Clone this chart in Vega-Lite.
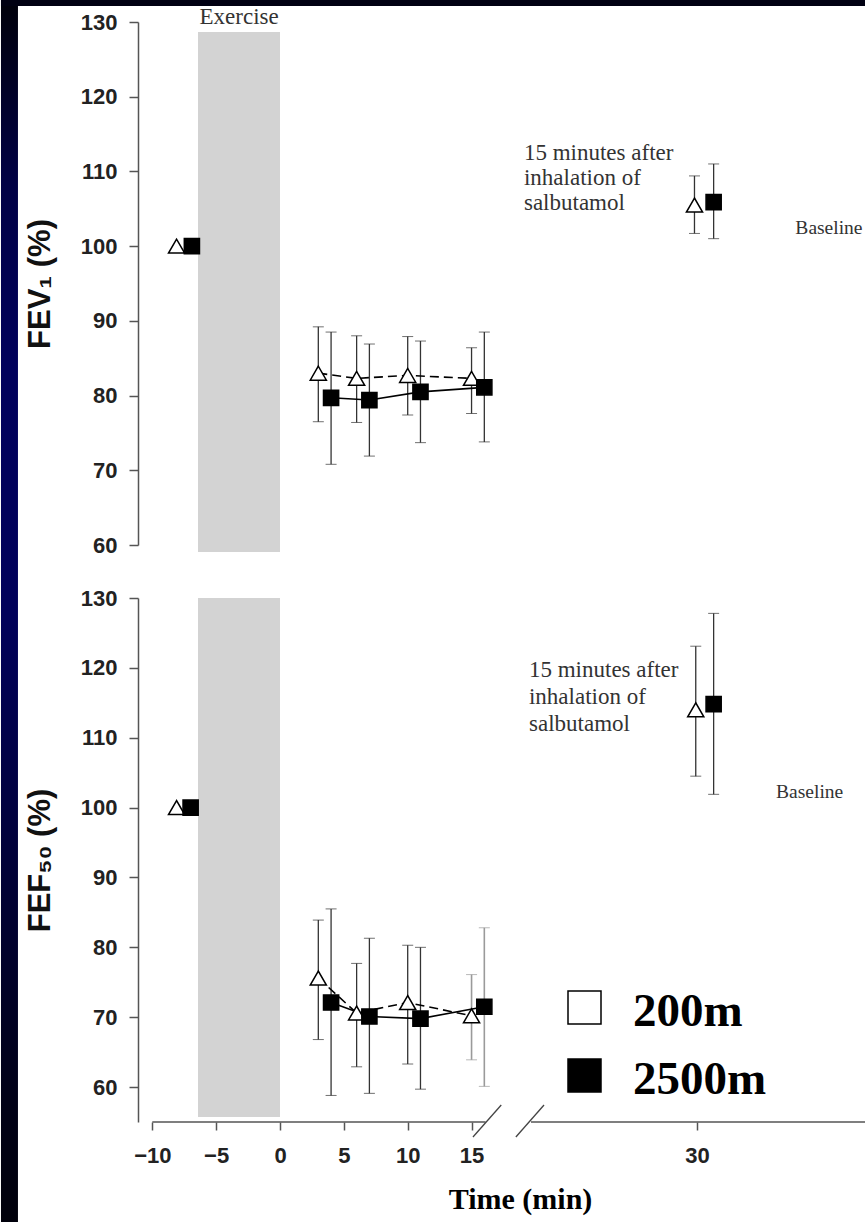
{
  "$schema": "https://vega.github.io/schema/vega-lite/v6.json",
  "background": "white",
  "padding": 0,
  "autosize": {"type": "pad"},
  "bounds": "flush",
  "spacing": 53,
  "config": {
    "view": {"stroke": null},
    "axis": {"grid": false, "labelFont": "Liberation Sans", "labelFontWeight": "bold", "labelColor": "#222", "titleFont": "Liberation Sans", "titleFontWeight": "bold", "titleColor": "#111", "domainColor": "#555", "tickColor": "#555", "domainWidth": 1.5, "tickWidth": 1.5}
  },
  "datasets": {
    "fev1": [
      {"t": -8.1, "v": 100, "lo": null, "hi": null, "alt": "200m"},
      {"t": 3, "v": 83.0, "lo": 76.5, "hi": 89.2, "alt": "200m"},
      {"t": 6, "v": 82.3, "lo": 76.4, "hi": 88.0, "alt": "200m"},
      {"t": 10, "v": 82.7, "lo": 77.4, "hi": 87.9, "alt": "200m"},
      {"t": 15, "v": 82.3, "lo": 77.6, "hi": 86.4, "alt": "200m"},
      {"t": 29.8, "v": 105.5, "lo": 101.7, "hi": 109.4, "alt": "200m"},
      {"t": -6.9, "v": 100, "lo": null, "hi": null, "alt": "2500m"},
      {"t": 4, "v": 79.7, "lo": 70.8, "hi": 88.5, "alt": "2500m"},
      {"t": 7, "v": 79.4, "lo": 71.9, "hi": 86.9, "alt": "2500m"},
      {"t": 11, "v": 80.5, "lo": 73.7, "hi": 87.3, "alt": "2500m"},
      {"t": 16, "v": 81.1, "lo": 73.8, "hi": 88.5, "alt": "2500m"},
      {"t": 31.3, "v": 105.9, "lo": 101.0, "hi": 111.0, "alt": "2500m"}
    ],
    "fef50": [
      {"t": -8.1, "v": 100, "lo": null, "hi": null, "alt": "200m"},
      {"t": 3, "v": 75.6, "lo": 66.8, "hi": 83.9, "alt": "200m"},
      {"t": 6, "v": 70.6, "lo": 62.9, "hi": 77.7, "alt": "200m"},
      {"t": 10, "v": 72.1, "lo": 63.3, "hi": 80.3, "alt": "200m"},
      {"t": 15, "v": 70.2, "lo": 63.9, "hi": 76.1, "alt": "200m"},
      {"t": 29.9, "v": 114.0, "lo": 104.5, "hi": 123.1, "alt": "200m"},
      {"t": -7.0, "v": 100, "lo": null, "hi": null, "alt": "2500m"},
      {"t": 4, "v": 72.1, "lo": 58.8, "hi": 85.5, "alt": "2500m"},
      {"t": 7, "v": 70.1, "lo": 59.1, "hi": 81.3, "alt": "2500m"},
      {"t": 11, "v": 69.8, "lo": 59.7, "hi": 80.0, "alt": "2500m"},
      {"t": 16, "v": 71.5, "lo": 60.1, "hi": 82.8, "alt": "2500m"},
      {"t": 31.3, "v": 114.8, "lo": 101.9, "hi": 127.8, "alt": "2500m"}
    ]
  },
  "resolve": {
    "scale": {"fill": "independent"},
    "legend": {"fill": "independent"}
  },
  "vconcat": [
    {
      "width": 728,
      "height": 523,
      "encoding": {
        "x": {"type": "quantitative", "scale": {"domain": [-11.12, 16.1, 17.0, 43.23], "range": [0, 347.6, 393, 728], "nice": false, "zero": false}, "axis": null},
        "y": {"type": "quantitative", "title": "FEV₁ (%)", "scale": {"domain": [60, 130], "nice": false, "zero": false}, "axis": {"values": [60, 70, 80, 90, 100, 110, 120, 130], "titleFontSize": 31, "titlePadding": 24, "labelFontSize": 22, "tickSize": 9, "labelPadding": 12}}
      },
      "layer": [
        {
          "data": {"values": [{"x": -21.85, "x2": -20.52, "y": 132.94, "y2": -32}]},
          "mark": {"type": "rect", "color": {"gradient": "linear", "x1": 0, "y1": 0, "x2": 0, "y2": 1, "stops": [{"offset": 0, "color": "#00000a"}, {"offset": 0.15, "color": "#000045"}, {"offset": 0.3, "color": "#00005c"}, {"offset": 0.5, "color": "#00005a"}, {"offset": 0.7, "color": "#000038"}, {"offset": 0.9, "color": "#000016"}, {"offset": 1, "color": "#00000a"}]}},
          "encoding": {"x": {"field": "x"}, "x2": {"field": "x2"}, "y": {"field": "y"}, "y2": {"field": "y2"}}
        },
        {
          "data": {"values": [{"x": -21.85, "x2": 43.23, "y": 132.94, "y2": 132.14}]},
          "mark": {"type": "rect", "color": "#000012"},
          "encoding": {"x": {"field": "x"}, "x2": {"field": "x2"}, "y": {"field": "y"}, "y2": {"field": "y2"}}
        },
        {
          "data": {"values": [{"x": -6.42, "x2": 0, "y": 128.66, "y2": 59.06}]},
          "mark": {"type": "rect", "color": "#d3d3d3"},
          "encoding": {"x": {"field": "x"}, "x2": {"field": "x2"}, "y": {"field": "y"}, "y2": {"field": "y2"}}
        },
        {
          "data": {"values": [{"label": "Exercise", "x": -3.2, "y": 130.7}]},
          "mark": {"type": "text", "font": "Liberation Serif", "fontSize": 23, "color": "#333", "align": "center", "baseline": "middle"},
          "encoding": {"x": {"field": "x"}, "y": {"field": "y"}, "text": {"field": "label"}}
        },
        {
          "mark": {"type": "rule", "color": "#555", "strokeDash": [2, 3], "strokeWidth": 1.3},
          "encoding": {"y": {"datum": 100}}
        },
        {
          "data": {"values": [{"label": "Baseline", "x": 37.7, "y": 102.43}]},
          "mark": {"type": "text", "font": "Liberation Serif", "fontSize": 19.5, "color": "#333", "align": "left", "baseline": "middle"},
          "encoding": {"x": {"field": "x"}, "y": {"field": "y"}, "text": {"field": "label"}}
        },
        {
          "data": {"values": [{"label": ["15 minutes after", "inhalation of", "salbutamol"], "x": 16.86, "y": 112.47}]},
          "mark": {"type": "text", "font": "Liberation Serif", "fontSize": 23, "color": "#333", "align": "left", "baseline": "middle", "lineHeight": 25},
          "encoding": {"x": {"field": "x"}, "y": {"field": "y"}, "text": {"field": "label"}}
        },
        {
          "data": {"name": "fev1"},
          "transform": [{"filter": "datum.lo != null"}],
          "mark": {"type": "errorbar", "ticks": {"size": 11, "color": "#333", "strokeWidth": 1.3}, "rule": {"color": "#333", "strokeWidth": 1.3}},
          "encoding": {"x": {"field": "t"}, "y": {"field": "lo"}, "y2": {"field": "hi"}}
        },
        {
          "data": {"name": "fev1"},
          "transform": [{"filter": "datum.alt == '200m' && datum.t > 2 && datum.t < 17"}],
          "mark": {"type": "line", "color": "black", "strokeWidth": 1.6, "strokeDash": [9, 5]},
          "encoding": {"x": {"field": "t"}, "y": {"field": "v"}}
        },
        {
          "data": {"name": "fev1"},
          "transform": [{"filter": "datum.alt == '2500m' && datum.t > 2 && datum.t < 17"}],
          "mark": {"type": "line", "color": "black", "strokeWidth": 1.6},
          "encoding": {"x": {"field": "t"}, "y": {"field": "v"}}
        },
        {
          "data": {"name": "fev1"},
          "transform": [{"filter": "datum.alt == '200m'"}],
          "mark": {"type": "point", "shape": "triangle-up", "filled": true, "opacity": 1, "stroke": "black", "strokeWidth": 1.5, "size": 260},
          "encoding": {"x": {"field": "t"}, "y": {"field": "v"}, "fill": {"field": "alt", "type": "nominal", "scale": {"domain": ["200m", "2500m"], "range": ["white", "black"]}, "legend": null}}
        },
        {
          "data": {"name": "fev1"},
          "transform": [{"filter": "datum.alt == '2500m'"}],
          "mark": {"type": "point", "shape": "square", "filled": true, "opacity": 1, "stroke": "black", "strokeWidth": 1.5, "size": 230},
          "encoding": {"x": {"field": "t"}, "y": {"field": "v"}, "fill": {"field": "alt", "type": "nominal", "scale": {"domain": ["200m", "2500m"], "range": ["white", "black"]}, "legend": null}}
        }
      ]
    },
    {
      "width": 728,
      "height": 524,
      "encoding": {
        "x": {"type": "quantitative", "title": "Time (min)", "scale": {"domain": [-11.12, 16.1, 17.0, 43.23], "range": [0, 347.6, 393, 728], "nice": false, "zero": false}, "axis": {"values": [-10, -5, 0, 5, 10, 15, 30], "domain": false, "labelFlush": false, "labelFontSize": 22, "tickSize": 8, "labelPadding": 15, "titleFont": "Liberation Serif", "titleFontSize": 30, "titleColor": "black", "titlePadding": 18, "titleX": 382}},
        "y": {"type": "quantitative", "title": "FEF₅₀ (%)", "scale": {"domain": [55, 130], "nice": false, "zero": false}, "axis": {"values": [60, 70, 80, 90, 100, 110, 120, 130], "titleFontSize": 31, "titlePadding": 24, "labelFontSize": 22, "tickSize": 9, "labelPadding": 12}}
      },
      "layer": [
        {
          "data": {"values": [{"x": -6.42, "x2": 0, "y": 130, "y2": 55.7}]},
          "mark": {"type": "rect", "color": "#d3d3d3"},
          "encoding": {"x": {"field": "x"}, "x2": {"field": "x2"}, "y": {"field": "y"}, "y2": {"field": "y2"}}
        },
        {
          "data": {"values": [{"x": -10, "x2": 16.1}, {"x": 17.0, "x2": 43.23}]},
          "mark": {"type": "rule", "color": "#555", "strokeWidth": 1.5},
          "encoding": {"x": {"field": "x"}, "x2": {"field": "x2"}, "y": {"datum": 55}}
        },
        {
          "data": {"values": [{"x": 15.11, "x2": 16.41, "y": 52.85, "y2": 57.43}, {"x": 16.70, "x2": 18.02, "y": 52.85, "y2": 57.43}]},
          "mark": {"type": "rule", "color": "#444", "strokeWidth": 1.3},
          "encoding": {"x": {"field": "x"}, "x2": {"field": "x2"}, "y": {"field": "y"}, "y2": {"field": "y2"}}
        },
        {
          "mark": {"type": "rule", "color": "#555", "strokeDash": [2, 3], "strokeWidth": 1.3},
          "encoding": {"y": {"datum": 100}}
        },
        {
          "data": {"values": [{"label": "Baseline", "x": 36.19, "y": 102.28}]},
          "mark": {"type": "text", "font": "Liberation Serif", "fontSize": 19.5, "color": "#333", "align": "left", "baseline": "middle"},
          "encoding": {"x": {"field": "x"}, "y": {"field": "y"}, "text": {"field": "label"}}
        },
        {
          "data": {"values": [{"label": ["15 minutes after", "inhalation of", "salbutamol"], "x": 16.96, "y": 119.7}]},
          "mark": {"type": "text", "font": "Liberation Serif", "fontSize": 23, "color": "#333", "align": "left", "baseline": "middle", "lineHeight": 27},
          "encoding": {"x": {"field": "x"}, "y": {"field": "y"}, "text": {"field": "label"}}
        },
        {
          "data": {"name": "fef50"},
          "transform": [{"filter": "datum.lo != null && (datum.t < 14 || datum.t > 20)"}],
          "mark": {"type": "errorbar", "ticks": {"size": 11, "color": "#333", "strokeWidth": 1.3}, "rule": {"color": "#333", "strokeWidth": 1.3}},
          "encoding": {"x": {"field": "t"}, "y": {"field": "lo"}, "y2": {"field": "hi"}}
        },
        {
          "data": {"name": "fef50"},
          "transform": [{"filter": "datum.lo != null && datum.t >= 14 && datum.t <= 20"}],
          "mark": {"type": "errorbar", "ticks": {"size": 11, "color": "#9a9a9a", "strokeWidth": 1.6}, "rule": {"color": "#9a9a9a", "strokeWidth": 1.6}},
          "encoding": {"x": {"field": "t"}, "y": {"field": "lo"}, "y2": {"field": "hi"}}
        },
        {
          "data": {"name": "fef50"},
          "transform": [{"filter": "datum.alt == '200m' && datum.t > 2 && datum.t < 17"}],
          "mark": {"type": "line", "color": "black", "strokeWidth": 1.6, "strokeDash": [9, 5]},
          "encoding": {"x": {"field": "t"}, "y": {"field": "v"}}
        },
        {
          "data": {"name": "fef50"},
          "transform": [{"filter": "datum.alt == '2500m' && datum.t > 2 && datum.t < 17"}],
          "mark": {"type": "line", "color": "black", "strokeWidth": 1.6},
          "encoding": {"x": {"field": "t"}, "y": {"field": "v"}}
        },
        {
          "data": {"name": "fef50"},
          "transform": [{"filter": "datum.alt == '200m'"}],
          "mark": {"type": "point", "shape": "triangle-up", "filled": true, "opacity": 1, "stroke": "black", "strokeWidth": 1.5, "size": 260},
          "encoding": {
            "x": {"field": "t"},
            "y": {"field": "v"},
            "fill": {"field": "alt", "type": "nominal", "scale": {"domain": ["200m", "2500m"], "range": ["white", "black"]}, "legend": {"orient": "none", "legendX": 423, "legendY": 386, "title": null, "symbolType": "square", "symbolSize": 1089, "symbolStrokeColor": "black", "symbolStrokeWidth": 1.5, "symbolOpacity": 1, "labelFont": "Liberation Serif", "labelFontWeight": "bold", "labelFontSize": 47, "labelColor": "black", "labelOffset": 25, "rowPadding": 17, "padding": 0, "labelLimit": 400, "encode": {"symbols": {"update": {"stroke": {"value": "black"}, "strokeWidth": {"value": 1.5}}}, "labels": {"update": {"dy": {"value": 4}}}}}}
          }
        },
        {
          "data": {"name": "fef50"},
          "transform": [{"filter": "datum.alt == '2500m'"}],
          "mark": {"type": "point", "shape": "square", "filled": true, "opacity": 1, "stroke": "black", "strokeWidth": 1.5, "size": 230},
          "encoding": {"x": {"field": "t"}, "y": {"field": "v"}, "fill": {"field": "alt", "type": "nominal", "scale": {"domain": ["200m", "2500m"], "range": ["white", "black"]}}}
        }
      ]
    }
  ]
}
